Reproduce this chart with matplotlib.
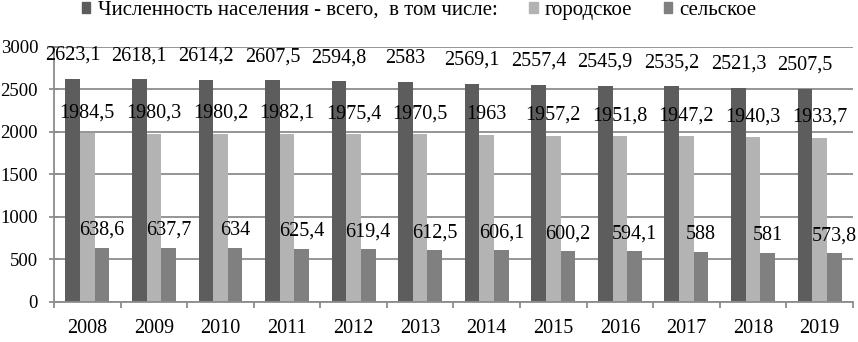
import numpy as np
import matplotlib.pyplot as plt
from matplotlib.patches import Patch

plt.rcParams['font.family'] = ['Liberation Serif', 'DejaVu Serif']

years = ['2008', '2009', '2010', '2011', '2012', '2013',
         '2014', '2015', '2016', '2017', '2018', '2019']
total = [2623.1, 2618.1, 2614.2, 2607.5, 2594.8, 2583,
         2569.1, 2557.4, 2545.9, 2535.2, 2521.3, 2507.5]
urban = [1984.5, 1980.3, 1980.2, 1982.1, 1975.4, 1970.5,
         1963, 1957.2, 1951.8, 1947.2, 1940.3, 1933.7]
rural = [638.6, 637.7, 634, 625.4, 619.4, 612.5,
         606.1, 600.2, 594.1, 588, 581, 573.8]

names = ['Численность населения - всего,  в том числе:', 'городское', 'сельское']
colors = ['#5d5d5d', '#b3b3b3', '#808080']
offsets = [17, 14.5, 12.5]
grey = '#8c8c8c'


def fmt(v):
    s = ('%.1f' % v).replace('.', ',')
    return s[:-2] if s.endswith(',0') else s


fig = plt.figure(figsize=(8.58, 3.42), dpi=100)
ax = fig.add_axes([0.063, 0.117, 0.931, 0.7456])

x = np.arange(len(years))
w = 0.22
for i, (vals, c, off) in enumerate(zip([total, urban, rural], colors, offsets)):
    pos = x + (i - 1) * w
    ax.bar(pos, vals, width=w, color=c, zorder=2)
    for px, v in zip(pos, vals):
        ax.annotate(fmt(v), (px, v), xytext=(0, off), textcoords='offset points',
                    ha='center', va='center', fontsize=14.5, zorder=3)

ax.set_xlim(-0.5, len(years) - 0.5)
ax.set_ylim(0, 3000)
ax.set_yticks(range(0, 3001, 500))
ax.yaxis.grid(True, color=grey, linewidth=1.3, zorder=0)
ax.set_axisbelow(True)

ax.set_xticks(x)
ax.set_xticklabels(years)
ax.set_xticks(np.arange(-0.5, len(years)), minor=True)
ax.tick_params(axis='x', which='major', length=0, pad=12, labelsize=14.5)
ax.tick_params(axis='x', which='minor', length=4, color=grey, width=1.3)
ax.tick_params(axis='y', direction='inout', length=7, color=grey, width=1.3,
               pad=8, labelsize=13.5)

for s in ['top', 'right']:
    ax.spines[s].set_visible(False)
for s in ['left', 'bottom']:
    ax.spines[s].set_color(grey)
    ax.spines[s].set_linewidth(1.3)

handles = [Patch(color=c) for c in colors]
fig.legend(handles, names, loc='upper left', bbox_to_anchor=(0.094, 1.0), ncol=3,
           frameon=False, fontsize=15, handlelength=0.42, handleheight=0.42,
           handletextpad=0.35, columnspacing=1.5, borderpad=0.05, borderaxespad=0)

fig.savefig('out.png', dpi=100)
